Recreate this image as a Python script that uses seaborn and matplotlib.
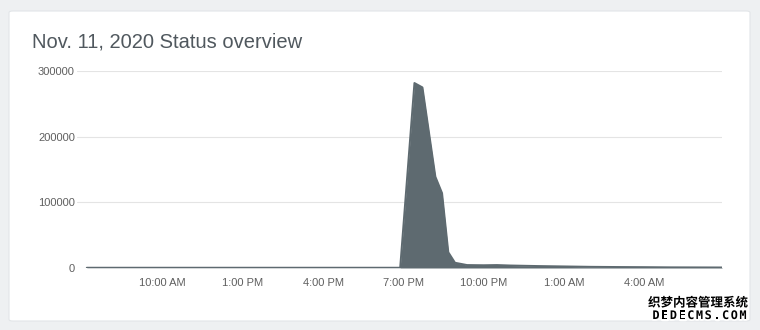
import matplotlib
matplotlib.use("Agg")
import matplotlib.pyplot as plt
import matplotlib.dates as mdates
import matplotlib.patheffects as pe
from matplotlib.patches import FancyBboxPatch
import seaborn as sns
import pandas as pd

# ---- data ----
times = ["2020-11-11 07:10", "2020-11-11 08:00", "2020-11-11 09:00", "2020-11-11 10:00",
         "2020-11-11 11:00", "2020-11-11 12:00", "2020-11-11 13:00", "2020-11-11 14:00",
         "2020-11-11 15:00", "2020-11-11 16:00", "2020-11-11 17:00", "2020-11-11 18:00",
         "2020-11-11 18:53", "2020-11-11 19:25", "2020-11-11 19:43", "2020-11-11 20:12",
         "2020-11-11 20:27", "2020-11-11 20:41", "2020-11-11 20:56", "2020-11-11 21:23",
         "2020-11-11 22:00", "2020-11-11 22:30", "2020-11-11 23:00", "2020-11-12 00:00",
         "2020-11-12 01:00", "2020-11-12 02:00", "2020-11-12 03:00", "2020-11-12 04:00",
         "2020-11-12 05:00", "2020-11-12 06:00", "2020-11-12 06:55"]
values = [400, 400, 400, 400, 400, 400, 400, 400, 400, 400, 400, 400,
          400, 281700, 275000, 139000, 114000, 24000, 8000, 4500,
          4200, 4500, 3800, 3000, 2400, 1800, 1500, 1300, 1000, 900, 800]
y_ticks = [0, 100000, 200000, 300000]
title = "Nov. 11, 2020 Status overview"
wm_line1 = "织梦内容管理系统"
wm_line2 = "DEDECMS.COM"

df = pd.DataFrame({"time": pd.to_datetime(times), "count": values})

sns.set_theme(style="white")
plt.rcParams["font.family"] = ["Liberation Sans", "DejaVu Sans"]

fig = plt.figure(figsize=(7.6, 3.3), dpi=100)
fig.patch.set_facecolor("#eef0f2")

# card
card = FancyBboxPatch((9 / 760, 1 - 321 / 330), (750 - 9) / 760, (321 - 11) / 330,
                      boxstyle="round,pad=0,rounding_size=0.005",
                      transform=fig.transFigure, facecolor="white",
                      edgecolor="#e2e5e8", linewidth=0.8, zorder=-10)
fig.patches.append(card)

fig.text(32 / 760, 1 - 48 / 330, title, fontsize=14.5, color="#50585e",
         ha="left", va="baseline")

ax = fig.add_axes([77 / 760, 1 - 268 / 330, (722 - 77) / 760, (268 - 71) / 330])
ax.set_zorder(5)
ax.set_facecolor("none")

color = "#5e6a70"
ax.fill_between(df["time"], 0, df["count"], color=color, linewidth=0, zorder=2)
sns.lineplot(data=df, x="time", y="count", ax=ax, color=color, linewidth=1.4, zorder=3)

ax.set_xlim(pd.Timestamp("2020-11-11 06:48"), pd.Timestamp("2020-11-12 06:55"))
ax.set_ylim(0, 300000)
ax.set_yticks(y_ticks)
ax.set_yticklabels([str(v) for v in y_ticks])
ax.grid(axis="y", color="#e4e4e4", linewidth=0.8, zorder=0)
ax.grid(axis="x", visible=False)
ax.xaxis.set_major_locator(mdates.HourLocator(byhour=[1, 4, 10, 13, 16, 19, 22]))
ax.xaxis.set_major_formatter(mdates.DateFormatter("%-I:%M %p"))
ax.set_xlabel("")
ax.set_ylabel("")
for s in ax.spines.values():
    s.set_visible(False)
ax.tick_params(axis="y", length=0, pad=1.5, labelsize=8, labelcolor="#5f5f5f")
ax.tick_params(axis="x", length=0, pad=7, labelsize=8, labelcolor="#5f5f5f")

# watermark
stroke = [pe.withStroke(linewidth=2.5, foreground="white")]
fig.text(748 / 760, 1 - 303 / 330, wm_line1, fontsize=9, color="black",
         family=["Noto Sans CJK SC", "DejaVu Sans"], weight="bold",
         ha="right", va="center", path_effects=stroke, zorder=10)
for i, ch in enumerate(wm_line2):
    fig.text((656 + i * 8.7) / 760, 1 - 315.5 / 330, ch, fontsize=8.5, color="black",
             family=["DejaVu Sans Mono"], weight="bold",
             ha="center", va="center", path_effects=stroke, zorder=10)

fig.savefig("out.png", dpi=100, facecolor=fig.get_facecolor())
